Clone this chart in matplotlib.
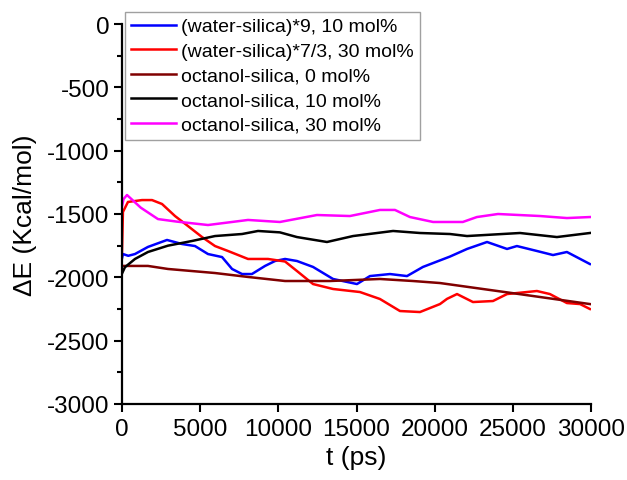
import matplotlib
matplotlib.use("Agg")
import matplotlib.pyplot as plt
from matplotlib.ticker import MultipleLocator

plt.rcParams['font.family'] = ['Liberation Sans', 'DejaVu Sans']
plt.rcParams['axes.unicode_minus'] = False

# (water-silica)*9, 10 mol%
t_blue = [0, 60, 400, 830, 1660, 2880, 3840, 4670, 5500, 6400, 7040, 7680, 8310, 9150, 9790,
          10430, 11190, 12220, 13500, 15030, 15860, 17140, 18230, 19250, 20980, 22070, 23350,
          24630, 25260, 26540, 27570, 28460, 29930]
e_blue = [-1850, -1816, -1830, -1816, -1760, -1705, -1737, -1753, -1816, -1840, -1934, -1974, -1974,
          -1910, -1871, -1855, -1871, -1918, -2013, -2053, -1990, -1974, -1990, -1918, -1836, -1776,
          -1721, -1776, -1753, -1792, -1824, -1800, -1895]

# (water-silica)*7/3, 30 mol%
t_red = [0, 60, 380, 1280, 1920, 2560, 3390, 4220, 5120, 5950, 6780, 8060, 9340, 10430, 11190,
         12220, 13500, 15220, 16500, 17780, 19060, 20340, 20790, 21430, 22450, 23730, 24630, 25900,
         26540, 27370, 28460, 29300, 29930]
e_red = [-1800, -1484, -1405, -1390, -1390, -1421, -1516, -1595, -1682, -1753, -1792, -1855, -1855,
         -1875, -1950, -2053, -2092, -2116, -2171, -2266, -2274, -2211, -2170, -2132, -2195, -2187,
         -2132, -2116, -2108, -2132, -2203, -2211, -2250]

# octanol-silica, 0 mol%
t_dred = [0, 1660, 2940, 5950, 8060, 10430, 13300, 16500, 18610, 20340, 25000, 29930]
e_dred = [-1910, -1910, -1934, -1966, -1997, -2029, -2029, -2013, -2029, -2045, -2125, -2211]

# octanol-silica, 10 mol%
t_black = [0, 190, 830, 1660, 2940, 4480, 5950, 7680, 8700, 10100, 11190, 13110, 14780, 17340,
           19060, 20980, 22070, 25460, 27820, 29930]
e_black = [-1970, -1920, -1855, -1800, -1750, -1713, -1674, -1658, -1634, -1645, -1682, -1721,
           -1674, -1634, -1650, -1658, -1674, -1650, -1682, -1650]

# octanol-silica, 30 mol%
t_mag = [0, 100, 320, 1200, 2300, 3500, 5500, 8060, 10100, 12470, 14580, 16500, 17460, 18420,
         19900, 21800, 22700, 24050, 26740, 28460, 29930]
e_mag = [-1440, -1382, -1350, -1450, -1540, -1560, -1587, -1547, -1563, -1508, -1516, -1468,
         -1468, -1524, -1563, -1563, -1524, -1500, -1516, -1532, -1524]

fig = plt.figure(figsize=(6.27, 4.81), dpi=100)
ax = fig.add_axes([122 / 627, 1 - 405 / 481, 469 / 627, 380 / 481])

ax.plot(t_blue, e_blue, color="#0000ff", lw=1.8, label="(water-silica)*9, 10 mol%")
ax.plot(t_red, e_red, color="#ff0000", lw=1.8, label="(water-silica)*7/3, 30 mol%")
ax.plot(t_dred, e_dred, color="#800000", lw=1.8, label="octanol-silica, 0 mol%")
ax.plot(t_black, e_black, color="black", lw=1.8, label="octanol-silica, 10 mol%")
ax.plot(t_mag, e_mag, color="#ff00ff", lw=1.8, label="octanol-silica, 30 mol%")

ax.set_xlim(0, 30000)
ax.set_ylim(-3000, 0)
ax.xaxis.set_major_locator(MultipleLocator(5000))
ax.yaxis.set_major_locator(MultipleLocator(500))
ax.yaxis.set_minor_locator(MultipleLocator(250))
ax.spines["top"].set_visible(False)
ax.spines["right"].set_visible(False)
for s in ("left", "bottom"):
    ax.spines[s].set_linewidth(1.6)
ax.tick_params(which="major", direction="out", length=6, width=1.5, labelsize=17.5)
ax.tick_params(axis="y", which="major", pad=3)
ax.tick_params(axis="x", which="major", pad=4)
ax.tick_params(which="minor", direction="out", length=3.5, width=1.5)
ax.set_xlabel("t (ps)", fontsize=19)
ax.set_ylabel("ΔE (Kcal/mol)", fontsize=19)
ax.xaxis.label.set_verticalalignment("center")
ax.xaxis.set_label_coords(0.5, -(458 - 405) / 380)
ax.yaxis.label.set_verticalalignment("center")
ax.yaxis.set_label_coords(-(122 - 25) / 469, 0.5)

leg = ax.legend(loc="upper left", bbox_to_anchor=(125 / 627, 1 - 13 / 481),
                bbox_transform=fig.transFigure, fontsize=14, frameon=True,
                fancybox=False, edgecolor="#888888", handlelength=2.3, handletextpad=0.3,
                labelspacing=0.36, borderpad=0.3, borderaxespad=0)
leg.get_frame().set_linewidth(1.0)

fig.savefig("out.png", dpi=100)
